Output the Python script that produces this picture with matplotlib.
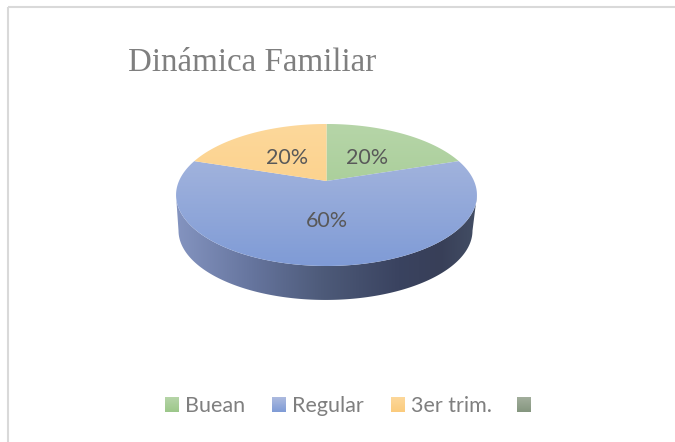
import numpy as np
import matplotlib
matplotlib.use('Agg')
import matplotlib.pyplot as plt
from matplotlib.colors import LinearSegmentedColormap
from matplotlib.patches import Polygon, Rectangle

# datos
categorias = ['Buean', 'Regular', '3er trim.', '']
valores = [20, 60, 20, 0]
etiquetas = ['20%', '60%', '20%']
titulo = 'Dinámica Familiar'

# colores de cada sector (arriba, abajo)
colores = [('#b6d5a8', '#9cc78a'), ('#adbbdf', '#7f9bd6'), ('#fdd89b', '#fbcb7c')]
color_extra = ('#a3ae9d', '#84967e')
color_lado = [(0.0, '#8494c0'), (0.25, '#66759e'), (0.48, '#4e5b7a'),
              (0.74, '#3a4360'), (0.88, '#383f58'), (1.0, '#434e64')]

W, H = 675, 442
fig = plt.figure(figsize=(W / 100, H / 100), dpi=100)
ax = fig.add_axes([0, 0, 1, 1])
ax.set_xlim(0, W)
ax.set_ylim(H, 0)
ax.axis('off')

# marco
ax.add_patch(Rectangle((8, 7), 700, 700, fc='none', ec='#d9d9d9', lw=1.5))

cx, cy = 326.5, 181.0  # vertice de la torta


def proyectar(ang, a=147.5, b=71.0, c=14.0, p=0.197, dx=0.0, dy=0.0, esc=1.0):
    # circulo -> elipse con perspectiva
    u, v = np.sin(ang), np.cos(ang)
    d = 1 + p * v
    return cx + dx + esc * a * u / d, cy + dy - esc * (b * v + c) / d + c


def mitad_inferior(**kw):
    # parte de abajo de la elipse, de derecha a izquierda
    t = np.linspace(0, 2 * np.pi, 721)[:-1]
    x, y = proyectar(t, **kw)
    i_der, i_izq = np.argmax(x), np.argmin(x)
    return np.c_[x, y][i_der:i_izq + 1]


def degradado(poly, cmap, extent, horizontal=False):
    g = np.linspace(0, 1, 256)
    img = g[None, :] if horizontal else g[:, None]
    im = ax.imshow(img, cmap=cmap, extent=extent, aspect='auto', zorder=2, interpolation='bilinear')
    im.set_clip_path(poly)


# lado de la torta
arriba = mitad_inferior()
abajo = mitad_inferior(dx=-1.0, dy=35.6, esc=0.977)
lado = Polygon(np.r_[arriba, abajo[::-1]], closed=True, fc='none', ec='none')
ax.add_patch(lado)
cmap_lado = LinearSegmentedColormap.from_list('lado', color_lado)
degradado(lado, cmap_lado, (176, 477, 442, 0), horizontal=True)

# sectores
y_arriba, y_abajo = proyectar(0.0)[1], proyectar(np.pi)[1]
inicio = 0.0
total = sum(valores)
for val, (c1, c2) in zip(valores[:3], colores):
    fin = inicio + 2 * np.pi * val / total
    t = np.linspace(inicio, fin, 200)
    x, y = proyectar(t)
    sector = Polygon(np.r_[[[cx, cy]], np.c_[x, y]], closed=True, fc='none', ec='none')
    ax.add_patch(sector)
    cmap = LinearSegmentedColormap.from_list('s', [c1, c2])
    degradado(sector, cmap, (176, 477, y_abajo, y_arriba))
    inicio = fin
ax.set_xlim(0, W)
ax.set_ylim(H, 0)

# etiquetas
pos_etq = [(367, 158), (327, 221), (287, 158)]
for txt, (x, y) in zip(etiquetas, pos_etq):
    ax.text(x, y, txt, fontsize=15.5, color='#595959', ha='center', va='center',
            family='Lato', zorder=3)

ax.text(128, 63, titulo, fontsize=23.8, color='#7f7f7f', ha='left', va='center',
        family='Liberation Serif', zorder=3)

# leyenda
ley_x = [165, 272, 391, 517]
cols = colores + [color_extra]
cmap_ley = [LinearSegmentedColormap.from_list('l', c) for c in cols]
for x0, nombre, cm in zip(ley_x, categorias, cmap_ley):
    r = Rectangle((x0, 397), 14, 15, fc='none', ec='none')
    ax.add_patch(r)
    degradado(r, cm, (x0, x0 + 14, 412, 397))
    if nombre:
        ax.text(x0 + 20, 405.5, nombre, fontsize=15.5, color='#7f7f7f', ha='left', va='center',
                family='Lato', zorder=3)
ax.set_xlim(0, W)
ax.set_ylim(H, 0)

fig.savefig('out.png', dpi=100, facecolor='white')
